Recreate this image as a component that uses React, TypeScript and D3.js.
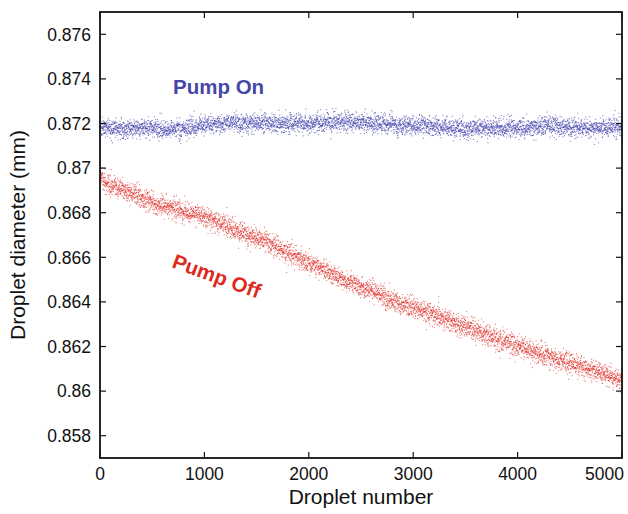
import React, { useMemo } from "react";
import * as d3 from "d3";

// Trend anchors: [droplet number, band centre (mm)]
const pumpOnTrend: [number, number][] = [
  [0, 0.87183], [500, 0.8718], [800, 0.87176], [1000, 0.87195], [1300, 0.87205],
  [1800, 0.872], [2200, 0.8721], [2600, 0.87205], [3000, 0.87192], [3500, 0.8718],
  [4000, 0.87182], [4400, 0.87194], [4700, 0.8718], [5000, 0.87186],
];
const pumpOffTrend: [number, number][] = [
  [0, 0.8695], [480, 0.86849], [960, 0.86789], [1440, 0.867], [1920, 0.86595],
  [2400, 0.8649], [2880, 0.86394], [3360, 0.86318], [3840, 0.86228], [4314, 0.86153],
  [4794, 0.86086], [5000, 0.86049],
];
// Observed scatter (standard deviation, mm) of each band
const pumpOnSpread = 0.00021;
const pumpOffSpread = 0.00023;
const dropletCount = 5000;

const xTicks = [0, 1000, 2000, 3000, 4000, 5000];
const xTickLabels = ["0", "1000", "2000", "3000", "4000", "5000"];
const yTicks = [0.858, 0.86, 0.862, 0.864, 0.866, 0.868, 0.87, 0.872, 0.874, 0.876];
const yTickLabels = ["0.858", "0.86", "0.862", "0.864", "0.866", "0.868", "0.87", "0.872", "0.874", "0.876"];

const W = 628, H = 514;
const L = 100, R = 622, T = 12, B = 458;
const FONT = "'Liberation Sans', Arial, sans-serif";

function makeSeries(trend: [number, number][], sd: number, seed: number) {
  const centre = d3.scaleLinear().domain(trend.map((d) => d[0])).range(trend.map((d) => d[1]));
  const noise = d3.randomNormal.source(d3.randomLcg(seed))(0, sd);
  const pts: [number, number][] = [];
  for (let i = 0; i <= dropletCount; i++) pts.push([i, centre(i) + noise()]);
  return pts;
}

export default function App() {
  const x = d3.scaleLinear().domain([0, 5000]).range([L, R]);
  const y = d3.scaleLinear().domain([0.857, 0.877]).range([B, T]);
  const on = useMemo(() => makeSeries(pumpOnTrend, pumpOnSpread, 0.137), []);
  const off = useMemo(() => makeSeries(pumpOffTrend, pumpOffSpread, 0.731), []);
  const tick = 6;
  return (
    <div style={{ position: "absolute", left: 0, top: 0 }}>
      <svg width={W} height={H} style={{ display: "block", background: "#fff" }}>
        <rect x={0} y={0} width={W} height={H} fill="#fff" />
        <g>
          {on.map((p, i) => (
            <rect key={"a" + i} x={x(p[0])} y={y(p[1])} width={1} height={1} fill="#3a3aaa" opacity={0.7} />
          ))}
          {off.map((p, i) => (
            <rect key={"b" + i} x={x(p[0])} y={y(p[1])} width={1} height={1} fill="#e02a22" opacity={0.7} />
          ))}
        </g>
        {/* frame */}
        <rect x={L} y={T} width={R - L} height={B - T} fill="none" stroke="#111" strokeWidth={1.8} />
        {xTicks.map((t, i) => (
          <g key={"xt" + i}>
            <line x1={x(t)} x2={x(t)} y1={B} y2={B - tick} stroke="#111" strokeWidth={1.2} />
            <line x1={x(t)} x2={x(t)} y1={T} y2={T + tick} stroke="#111" strokeWidth={1.2} />
            <text
              x={i === xTicks.length - 1 ? 624 : x(t)}
              y={480}
              textAnchor={i === xTicks.length - 1 ? "end" : "middle"}
              fontFamily={FONT}
              fontSize={17.5}
              fill="#111"
            >
              {xTickLabels[i]}
            </text>
          </g>
        ))}
        {yTicks.map((t, i) => (
          <g key={"yt" + i}>
            <line x1={L} x2={L + tick} y1={y(t)} y2={y(t)} stroke="#111" strokeWidth={1.2} />
            <line x1={R} x2={R - tick} y1={y(t)} y2={y(t)} stroke="#111" strokeWidth={1.2} />
            <text x={91} y={y(t) + 6.3} textAnchor="end" fontFamily={FONT} fontSize={17.5} fill="#111">
              {yTickLabels[i]}
            </text>
          </g>
        ))}
        <text x={(L + R) / 2} y={504} textAnchor="middle" fontFamily={FONT} fontSize={21} fill="#111">
          Droplet number
        </text>
        <text
          transform={`translate(25,${(T + B) / 2}) rotate(-90)`}
          textAnchor="middle"
          fontFamily={FONT}
          fontSize={21}
          fill="#111"
        >
          Droplet diameter (mm)
        </text>
        <text x={173} y={94} fontFamily={FONT} fontSize={20.5} fontWeight="bold" fill="#4646a8">
          Pump On
        </text>
        <text
          transform="translate(171,267) rotate(20)"
          fontFamily={FONT}
          fontSize={20.5}
          fontWeight="bold"
          fill="#dd2a20"
        >
          Pump Off
        </text>
      </svg>
    </div>
  );
}
